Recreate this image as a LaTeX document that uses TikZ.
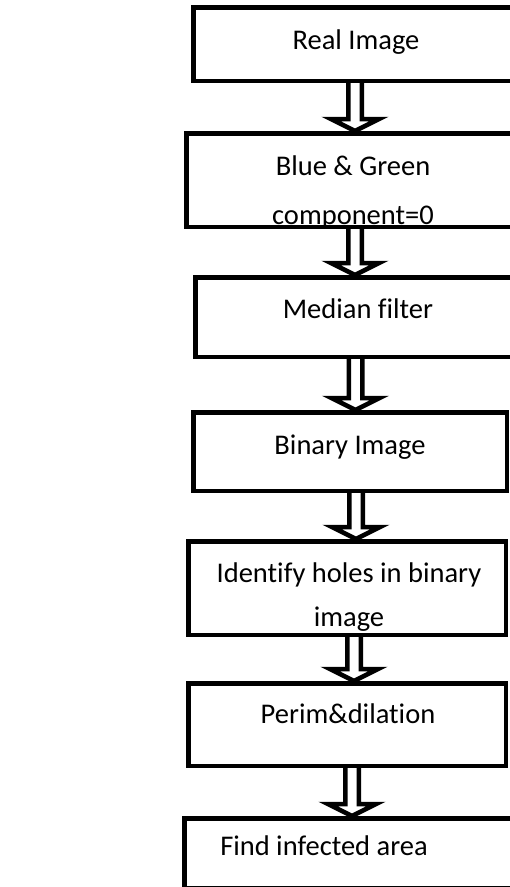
\documentclass[tikz,border=0pt]{standalone}
\usepackage{fontspec}
\setmainfont[Ligatures=CommonOff]{Carlito}
\usetikzlibrary{calc}

% hollow block arrow from the bottom of #1 to the top of #2, shaft at x=#3
\newcommand{\blockarrow}[3]{%
  \coordinate (ax) at (#3,0);
  \coordinate (from) at (#1.south -| ax);
  \coordinate (tip) at (#2.north -| ax);
  \draw[arrowline] ($(from)+(-6.75,0)$) -- ($(tip)+(-6.75,-12)$) -- ($(tip)+(-24,-12)$) -- (tip)
    -- ($(tip)+(24,-12)$) -- ($(tip)+(6.75,-12)$) -- ($(from)+(6.75,0)$);}

\begin{document}
\begin{tikzpicture}[x=1pt, y=-1pt,
  box/.style={draw, line width=4.5pt, inner sep=0pt},
  steptext/.style={anchor=base, align=center, font=\fontsize{28.5}{44}\selectfont},
  arrowline/.style={draw, fill=white, line width=4.5pt}]

% Page
\useasboundingbox (0,0) rectangle (510,887);
\clip (0,0) rectangle (510,887);

% Boxes
\node[box, minimum width=320.5pt, minimum height=73.5pt] (real) at (353.5,44) {};
\node[box, minimum width=327.5pt, minimum height=93.5pt] (bluegreen) at (350,180) {};
\node[box, minimum width=318.5pt, minimum height=79.5pt] (median) at (354.5,317) {};
\node[box, minimum width=313.5pt, minimum height=78.5pt] (binary) at (350,451.5) {};
\node[box, minimum width=317.5pt, minimum height=93.5pt] (holes) at (347,588) {};
\node[box, minimum width=317.5pt, minimum height=82.5pt] (perim) at (347,724.5) {};
\node[box, minimum width=329.5pt, minimum height=69.5pt] (infected) at (349,853) {};

% Arrows
\blockarrow{real}{bluegreen}{355}
\blockarrow{bluegreen}{median}{355}
\blockarrow{median}{binary}{355.5}
\blockarrow{binary}{holes}{356}
\blockarrow{holes}{perim}{354}
\blockarrow{perim}{infected}{352}

% Texts (base of a two-line text is its last line)
\node[steptext] (realtxt) at (356,49) {Real Image};
\node[steptext, font=\fontsize{28.5}{49}\selectfont] (bluegreentxt) at (353,224) {Blue \& Green\\component=0};
\node[steptext] (mediantxt) at (358,318) {Median filter};
\node[steptext] (binarytxt) at (350,454) {Binary Image};
\node[steptext, font=\fontsize{28.5}{44}\selectfont] (holestxt) at (349,626) {Identify holes in binary\\image};
\node[steptext] (perimtxt) at (348,723) {Perim\&dilation};
\node[steptext] (infectedtxt) at (324,855) {Find infected area};

\end{tikzpicture}
\end{document}
